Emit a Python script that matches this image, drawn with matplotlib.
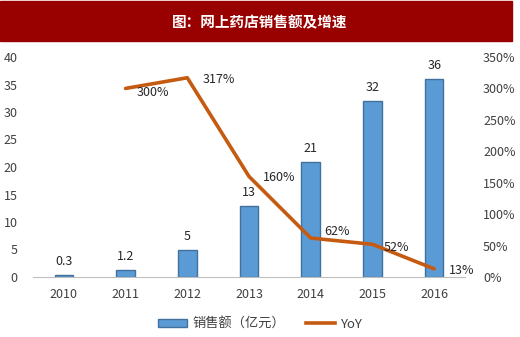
import matplotlib
matplotlib.use("Agg")
import matplotlib.pyplot as plt
from matplotlib.patches import Rectangle
from matplotlib.lines import Line2D
import matplotlib.ticker as mtick

plt.rcParams["font.family"] = ["Noto Sans CJK SC", "DejaVu Sans"]
plt.rcParams["axes.unicode_minus"] = False

# 数据
years = ["2010", "2011", "2012", "2013", "2014", "2015", "2016"]
sales = [0.3, 1.2, 5, 13, 21, 32, 36]
sales_labels = ["0.3", "1.2", "5", "13", "21", "32", "36"]
yoy_years = ["2011", "2012", "2013", "2014", "2015", "2016"]
yoy = [300, 317, 160, 62, 52, 13]
title = "图：网上药店销售额及增速"

bar_color = "#5B9BD5"
bar_edge = "#41719C"
line_color = "#C55A11"
text_color = "#404040"
fs = 9

fig = plt.figure(figsize=(5.2, 3.37), dpi=100)

# 标题栏
fig.patches.append(Rectangle((0, 1 - 41 / 337), 512 / 520, 40 / 337,
                             transform=fig.transFigure, color="#990000", zorder=0))
fig.text(0.5, 1 - 22 / 337, title, ha="center", va="center", color="white",
         fontsize=10.5, fontweight="bold")

ax = fig.add_axes([33 / 520, 60 / 337, 432 / 520, 220 / 337])
x = list(range(len(years)))
ax.bar(x, sales, width=0.3, color=bar_color, edgecolor=bar_edge, linewidth=1, zorder=2)
for xi, v, lab in zip(x, sales, sales_labels):
    ax.annotate(lab, (xi, v), xytext=(0, 5), textcoords="offset points",
                ha="center", va="bottom", fontsize=fs, color="#262626")

ax.set_xlim(-0.5, len(years) - 0.5)
ax.set_ylim(0, 40)
ax.yaxis.set_major_locator(mtick.MultipleLocator(5))
ax.set_xticks(x)
ax.set_xticklabels(years)
for s in ["top", "right", "left"]:
    ax.spines[s].set_visible(False)
ax.spines["bottom"].set_color("#BFBFBF")
ax.tick_params(axis="both", length=0, labelsize=fs, labelcolor=text_color)
ax.tick_params(axis="x", pad=8)
ax.tick_params(axis="y", pad=11)

ax2 = ax.twinx()
xl = [years.index(y) for y in yoy_years]
ax2.plot(xl, yoy, color=line_color, linewidth=2.6, solid_joinstyle="round",
         solid_capstyle="round", zorder=3)
offsets = [(8, -3), (11, -1), (10, -1), (10, 5), (8, -2), (11, -1)]
for xi, v, off in zip(xl, yoy, offsets):
    ax2.annotate(f"{v}%", (xi, v), xytext=off, textcoords="offset points",
                 ha="left", va="center", fontsize=fs, color="#262626")
ax2.set_ylim(0, 350)
ax2.yaxis.set_major_locator(mtick.MultipleLocator(50))
ax2.yaxis.set_major_formatter(mtick.FormatStrFormatter("%d%%"))
for s in ["top", "right", "left", "bottom"]:
    ax2.spines[s].set_visible(False)
ax2.tick_params(axis="y", length=0, labelsize=fs, labelcolor=text_color, pad=13)

# 图例
handles = [Rectangle((0, 0), 1, 1, facecolor=bar_color, edgecolor=bar_edge),
           Line2D([0], [0], color=line_color, linewidth=2.6)]
fig.legend(handles, ["销售额（亿元）", "YoY"], loc="center",
           bbox_to_anchor=(0.5, 1 - 324 / 337), ncol=2, frameon=False,
           fontsize=9.5, labelcolor=text_color, handlelength=2.2,
           handleheight=0.6, handletextpad=0.4, columnspacing=1.6)

fig.savefig("out.png", dpi=100)
